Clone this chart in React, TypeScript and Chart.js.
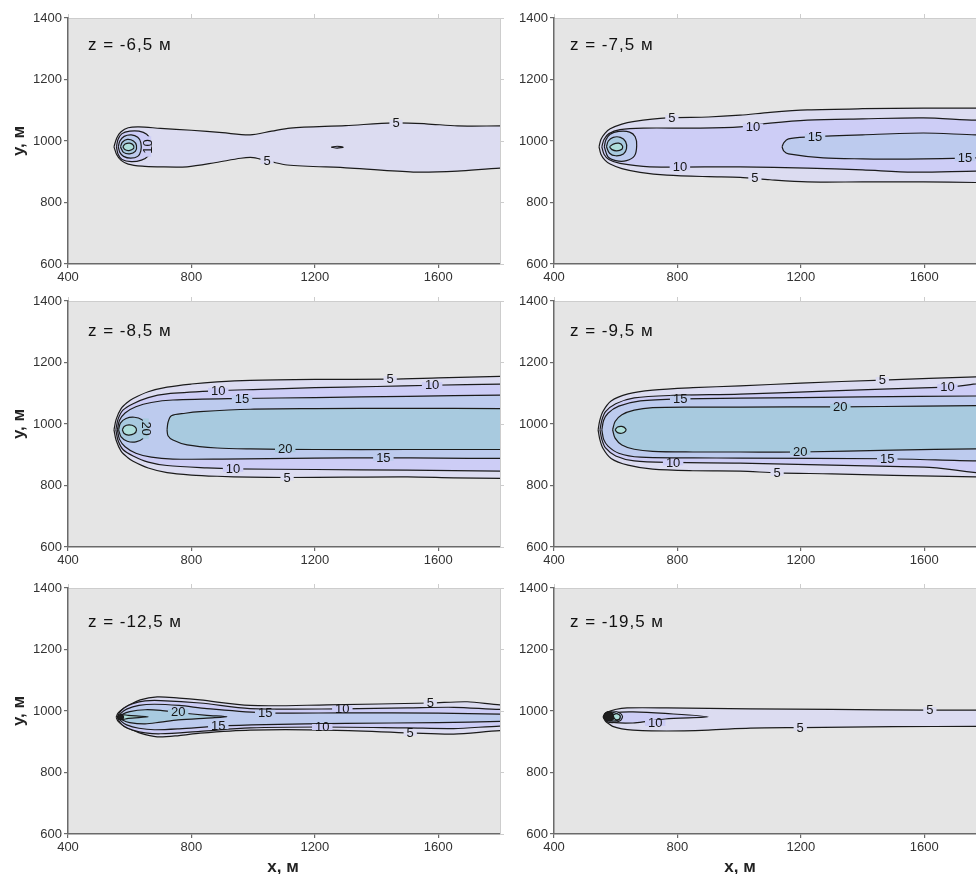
import React, { useEffect, useRef } from 'react';
import { Chart, registerables } from 'chart.js';
Chart.register(...registerables);

type P = [number, number];
type Lbl = [string, number, number, number, number]; // text, x, y, rotation(deg), level

// ---------- axes ----------
const xTicks = [400, 800, 1200, 1600];
const yTicks = [600, 800, 1000, 1200, 1400];
const xTopTicks = [400, 800, 1200, 1600];
const yRightTicks = [600, 800, 1000, 1200, 1400];
const xMin = 400;
const xMaxLeft = 1800;
const xMaxRight = 1767.6; // right column is cut by the picture edge
const yMin = 600;
const yMax = 1400;

const panelTitles = ['z = -6,5 м', 'z = -7,5 м', 'z = -8,5 м', 'z = -9,5 м', 'z = -12,5 м', 'z = -19,5 м'];
const xTitle = 'х, м';
const yTitle = 'у, м';

// ---------- panel 1: z = -6,5 ----------
const p1_c5_up: P[] = [[549,981],[558,1010],[572,1030],[595,1043],[630,1046],[700,1041],[800,1035],[900,1027],[990,1020],[1060,1032],[1120,1042],[1300,1050],[1454,1059],[1560,1056],[1662,1049],[1800,1049],[1900,1049]];
const p1_c5_lo: P[] = [[549,981],[558,955],[572,937],[595,925],[640,918],[689,916],[786,916],[880,930],[960,944],[1000,946],[1060,932],[1110,922],[1315,912],[1519,899],[1662,902],[1800,912],[1900,912]];
const p1_c10: P[] = [[557,981],[562,1005],[575,1024],[600,1032],[630,1032],[655,1022],[667,1003],[669,978],[660,952],[638,938],[605,933],[575,940],[562,958],[557,981]];
const p1_c15: P[] = [[563,981],[568,1000],[582,1015],[605,1020],[626,1012],[636,995],[636,968],[626,950],[603,944],[580,950],[568,963],[563,981]];
const p1_c20: P[] = [[570,981],[576,996],[592,1005],[612,1000],[622,985],[618,966],[600,958],[580,963],[570,981]];
const p1_c25: P[] = [[578,981],[585,990],[600,993],[612,986],[612,975],[598,969],[584,972],[578,981]];
const p1_dash: P[] = [[1253,980],[1272,983],[1292,980],[1272,977],[1253,980]];
const p1_labels: Lbl[] = [['5',1463,1059,0,5],['5',1045,935,0,5],['10',660,982,-90,10]];

// ---------- panel 2: z = -7,5 ----------
const p2_c5_up: P[] = [[546,981],[552,1005],[565,1025],[582,1040],[620,1055],[656,1063],[766,1075],[900,1078],[1003,1084],[1100,1093],[1221,1101],[1400,1105],[1597,1107],[1767,1107],[1900,1107]];
const p2_c5_lo: P[] = [[546,981],[552,957],[565,938],[582,925],[620,910],[679,898],[766,889],[900,884],[1003,882],[1100,874],[1221,867],[1400,867],[1597,867],[1767,865],[1900,865]];
const p2_c10_up: P[] = [[555,981],[562,1005],[578,1024],[614,1037],[689,1042],[874,1042],[1003,1046],[1100,1058],[1221,1068],[1400,1072],[1597,1075],[1767,1068],[1900,1068]];
const p2_c10_lo: P[] = [[555,981],[562,957],[578,940],[614,927],[711,916],[1003,916],[1221,912],[1400,906],[1564,899],[1767,902],[1900,902]];
const p2_c15_near: P[] = [[563,981],[568,1003],[582,1022],[610,1031],[645,1029],[663,1014],[668,985],[661,952],[635,936],[600,936],[575,948],[563,981]];
const p2_c20: P[] = [[570,981],[576,1000],[592,1012],[615,1012],[632,998],[635,975],[625,958],[600,952],[580,960],[570,981]];
const p2_c25: P[] = [[580,981],[592,990],[610,993],[622,984],[620,973],[603,968],[588,972],[580,981]];
const p2_c15_up: P[] = [[1139,981],[1145,995],[1160,1007],[1221,1013],[1400,1020],[1597,1026],[1767,1020],[1900,1020]];
const p2_c15_lo: P[] = [[1139,981],[1145,967],[1160,958],[1273,945],[1400,942],[1545,941],[1767,945],[1900,945]];
const p2_labels: Lbl[] = [['5',782,1075,0,5],['10',1045,1047,0,10],['15',1246,1014,0,15],['10',808,916,0,10],['5',1051,881,0,5],['15',1732,944,0,15]];

// ---------- panel 3: z = -8,5 ----------
const p3_c5_up: P[] = [[549,981],[556,1015],[572,1050],[592,1070],[611,1083],[660,1105],[721,1120],[800,1130],[883,1137],[990,1142],[1200,1145],[1444,1146],[1600,1150],[1800,1155],[1900,1155]];
const p3_c5_lo: P[] = [[549,981],[556,947],[572,912],[592,892],[611,879],[660,857],[721,842],[800,834],[883,830],[990,827],[1110,826],[1300,827],[1500,828],[1650,825],[1800,823],[1900,823]];
const p3_c10_up: P[] = [[555,981],[562,1015],[578,1045],[611,1066],[660,1086],[721,1098],[887,1108],[1000,1112],[1200,1118],[1400,1122],[1580,1126],[1800,1130],[1900,1130]];
const p3_c10_lo: P[] = [[555,981],[562,947],[578,917],[611,896],[660,876],[721,865],[850,857],[935,854],[1200,852],[1500,850],[1800,847],[1900,847]];
const p3_c15_up: P[] = [[560,981],[567,1012],[585,1036],[620,1056],[670,1070],[740,1078],[964,1083],[1200,1086],[1500,1090],[1800,1094],[1900,1094]];
const p3_c15_lo: P[] = [[560,981],[567,950],[585,926],[620,905],[670,892],[740,886],[900,886],[1200,889],[1422,890],[1600,889],[1800,888],[1900,888]];
const p3_c20_near: P[] = [[564,981],[570,1003],[588,1018],[615,1022],[640,1014],[652,998],[655,975],[645,954],[620,942],[592,944],[572,958],[564,981]];
const p3_c25: P[] = [[576,981],[582,992],[598,997],[616,992],[622,980],[614,968],[596,964],[582,969],[576,981]];
const p3_c20_up: P[] = [[721,981],[724,1005],[735,1027],[780,1035],[828,1040],[990,1048],[1200,1050],[1500,1051],[1800,1050],[1900,1050]];
const p3_c20_lo: P[] = [[721,981],[724,962],[740,948],[786,932],[883,922],[990,919],[1200,917],[1500,917],[1800,917],[1900,917]];
const p3_labels: Lbl[] = [['5',1444,1146,0,5],['10',887,1108,0,10],['10',1580,1126,0,10],['15',964,1083,0,15],['20',652,985,90,20],['20',1104,918,0,20],['15',1422,890,0,15],['10',935,854,0,10],['5',1110,826,0,5]];

// ---------- panel 4: z = -9,5 ----------
const p4_c5_up: P[] = [[543,981],[548,1010],[558,1040],[585,1075],[640,1098],[720,1110],[850,1118],[1003,1124],[1200,1133],[1464,1143],[1767,1153],[1900,1154]];
const p4_c5_lo: P[] = [[543,981],[548,952],[558,922],[585,888],[640,866],[720,853],[850,848],[1003,847],[1123,841],[1300,838],[1500,833],[1767,828],[1900,828]];
const p4_c10_up: P[] = [[549,981],[555,1012],[567,1040],[600,1066],[660,1085],[786,1093],[1003,1097],[1300,1108],[1675,1120],[1900,1121]];
const p4_c10_lo: P[] = [[549,981],[555,950],[567,922],[600,896],[660,880],[786,875],[1003,873],[1300,866],[1600,860],[1900,856]];
const p4_c15_up: P[] = [[555,981],[561,1012],[575,1035],[610,1058],[680,1075],[809,1082],[1003,1084],[1400,1088],[1767,1091],[1900,1091]];
const p4_c15_lo: P[] = [[555,981],[561,950],[575,928],[610,905],[680,892],[850,890],[1003,889],[1480,887],[1767,880],[1900,880]];
const p4_c20_up: P[] = [[590,981],[598,1008],[620,1030],[660,1045],[720,1053],[850,1055],[1003,1055],[1328,1056],[1600,1058],[1767,1060],[1900,1060]];
const p4_c20_lo: P[] = [[590,981],[598,954],[620,932],[660,918],[720,911],[850,909],[1003,909],[1198,909],[1500,915],[1767,919],[1900,919]];
const p4_c25: P[] = [[598,981],[606,990],[620,992],[632,985],[632,977],[620,970],[606,972],[598,981]];
const p4_labels: Lbl[] = [['5',1464,1143,0,5],['10',1675,1120,0,10],['15',809,1082,0,15],['20',1328,1056,0,20],['20',1198,909,0,20],['15',1480,887,0,15],['10',786,875,0,10],['5',1123,841,0,5]];

// ---------- panel 5: z = -12,5 ----------
const p5_c5_up: P[] = [[556,980],[562,993],[575,1005],[591,1015],[634,1036],[689,1046],[760,1042],[828,1036],[990,1018],[1240,1020],[1574,1026],[1694,1030],[1800,1020],[1900,1020]];
const p5_c5_lo: P[] = [[556,980],[562,967],[575,955],[591,946],[634,928],[689,916],[760,920],[828,928],[990,938],[1240,938],[1509,929],[1650,925],[1800,936],[1900,936]];
const p5_c10_up: P[] = [[560,980],[567,995],[582,1010],[610,1024],[650,1033],[700,1034],[828,1026],[990,1008],[1289,1007],[1500,1010],[1650,1012],[1800,1005],[1900,1005]];
const p5_c10_lo: P[] = [[560,980],[567,965],[582,950],[610,938],[650,929],[700,926],[828,934],[990,945],[1224,948],[1500,945],[1650,943],[1800,951],[1900,951]];
const p5_c15_up: P[] = [[564,980],[572,993],[590,1006],[630,1018],[680,1022],[760,1018],[850,1008],[1039,994],[1300,994],[1600,993],[1800,990],[1900,990]];
const p5_c15_lo: P[] = [[564,980],[572,967],[590,955],[630,944],[680,939],[760,942],[887,951],[1039,956],[1300,960],[1600,962],[1800,966],[1900,966]];
const p5_c20: P[] = [[568,980],[578,990],[600,998],[650,1004],[700,1002],[757,995],[850,986],[915,981],[850,977],[757,971],[700,964],[650,958],[600,962],[578,970],[568,980]];
const p5_c25: P[] = [[562,980],[572,988],[595,986],[660,981],[595,976],[572,972],[562,980]];
const p5_c40: P[] = [[560,980],[565,987],[578,985],[580,980],[578,975],[565,973],[560,980]];
const p5_labels: Lbl[] = [['5',1574,1026,0,5],['10',1289,1007,0,10],['15',1039,994,0,15],['20',757,996,0,20],['15',887,951,0,15],['10',1224,948,0,10],['5',1509,929,0,5]];

// ---------- panel 6: z = -19,5 ----------
const p6_c5_up: P[] = [[559,980],[566,990],[575,997],[598,1005],[637,1010],[766,1010],[1036,1007],[1300,1005],[1618,1003],[1767,1003],[1900,1003]];
const p6_c5_lo: P[] = [[559,980],[566,968],[575,960],[590,950],[620,942],[656,938],[766,935],[900,938],[1036,944],[1198,946],[1500,949],[1767,950],[1900,950]];
const p6_c10: P[] = [[566,980],[575,988],[598,995],[656,997],[760,992],[900,981],[760,974],[700,966],[656,961],[598,962],[575,970],[566,980]];
const p6_c15: P[] = [[561,982],[568,994],[588,1000],[610,995],[622,983],[614,968],[590,962],[570,967],[561,982]];
const p6_c20: P[] = [[563,982],[570,992],[588,996],[605,991],[614,982],[608,971],[590,967],[572,972],[563,982]];
const p6_c40: P[] = [[560,982],[565,992],[578,998],[592,990],[594,976],[582,968],[566,971],[560,982]];
const p6_c25: P[] = [[592,987],[602,991],[614,985],[612,974],[600,972],[594,979],[592,987]];
const p6_labels: Lbl[] = [['10',728,961,0,10],['5',1198,946,0,5],['5',1618,1003,0,5]];

// ---------- assembly ----------
const shape = (up: P[], lo: P[]): P[] => [...up, ...lo.slice(1).reverse(), up[0]];

type Contour = [number, P[]];
const panelContours: Contour[][] = [
  [[5, shape(p1_c5_up, p1_c5_lo)], [10, p1_c10], [15, p1_c15], [20, p1_c20], [25, p1_c25], [10, p1_dash]],
  [[5, shape(p2_c5_up, p2_c5_lo)], [10, shape(p2_c10_up, p2_c10_lo)], [15, p2_c15_near], [20, p2_c20], [25, p2_c25], [15, shape(p2_c15_up, p2_c15_lo)]],
  [[5, shape(p3_c5_up, p3_c5_lo)], [10, shape(p3_c10_up, p3_c10_lo)], [15, shape(p3_c15_up, p3_c15_lo)], [20, p3_c20_near], [25, p3_c25], [20, shape(p3_c20_up, p3_c20_lo)]],
  [[5, shape(p4_c5_up, p4_c5_lo)], [10, shape(p4_c10_up, p4_c10_lo)], [15, shape(p4_c15_up, p4_c15_lo)], [20, shape(p4_c20_up, p4_c20_lo)], [25, p4_c25]],
  [[5, shape(p5_c5_up, p5_c5_lo)], [10, shape(p5_c10_up, p5_c10_lo)], [15, shape(p5_c15_up, p5_c15_lo)], [20, p5_c20], [25, p5_c25], [40, p5_c40]],
  [[5, shape(p6_c5_up, p6_c5_lo)], [10, p6_c10], [15, p6_c15], [20, p6_c20], [40, p6_c40], [25, p6_c25]],
];
const panelLabels: Lbl[][] = [p1_labels, p2_labels, p3_labels, p4_labels, p5_labels, p6_labels];

// ---------- styles ----------
const fillColors: Record<number, string> = {
  5: '#dcdcf1', 10: '#cdcdf6', 15: '#bdcbee', 20: '#a8cadf', 25: '#aedfdb', 40: '#1e1e1e',
};
const plotBg = '#e5e5e5';
const axisDark = '#6a6a6a';
const axisLight = '#cdcdcd';
const FONT = "Arial, 'Liberation Sans', sans-serif";
const rowTops = [18, 301, 588];
const plotH = 246;
const titleDy = [27, 30, 34];

function Panel({ index }: { index: number }) {
  const ref = useRef<HTMLCanvasElement>(null);
  const col = index % 2;
  const row = Math.floor(index / 2);
  const canvasLeft = col === 0 ? 0 : 500;
  const canvasW = col === 0 ? 512 : 476;
  const canvasTop = rowTops[row] - 10;
  const bottomH = row === 2 ? 40 : 30;
  const canvasH = 10 + plotH + bottomH;

  useEffect(() => {
    const canvas = ref.current!;
    const contours = panelContours[index];
    const labels = panelLabels[index];
    const xMax = col === 0 ? xMaxLeft : xMaxRight;

    const datasets = contours.map(([lv, pts], i) => ({
      data: pts.map(([x, y]) => ({ x, y })),
      fill: 'shape',
      backgroundColor: fillColors[lv],
      borderColor: '#1b1b1b',
      borderWidth: 1.2,
      pointRadius: 0,
      pointHoverRadius: 0,
      tension: 0.3,
      order: contours.length - i,
      clip: 0,
    }));

    const decor = {
      id: 'decor',
      beforeDraw(chart: any) {
        const { ctx, chartArea: a } = chart;
        ctx.save();
        ctx.fillStyle = plotBg;
        ctx.fillRect(a.left, a.top, a.right - a.left, a.bottom - a.top);
        ctx.restore();
      },
      afterDatasetsDraw(chart: any) {
        const { ctx, chartArea: a } = chart;
        const sx = chart.scales.x;
        const sy = chart.scales.y;
        ctx.save();
        for (const [t, x, y, rot, lv] of labels) {
          const px = sx.getPixelForValue(x);
          const py = sy.getPixelForValue(y);
          ctx.save();
          ctx.translate(px, py);
          ctx.rotate((rot * Math.PI) / 180);
          ctx.font = `13px ${FONT}`;
          const w = ctx.measureText(t).width;
          ctx.fillStyle = fillColors[lv];
          ctx.fillRect(-w / 2 - 3, -3, w + 6, 6);
          ctx.fillStyle = '#151515';
          ctx.textAlign = 'center';
          ctx.textBaseline = 'middle';
          ctx.fillText(t, 0, 0.5);
          ctx.restore();
        }
        ctx.font = `17px ${FONT}`;
        try { (ctx as any).letterSpacing = '1px'; } catch (e) { /* ignore */ }
        ctx.fillStyle = '#111';
        ctx.textAlign = 'left';
        ctx.textBaseline = 'middle';
        ctx.fillText(panelTitles[index], a.left + (col === 0 ? 20 : 16), a.top + titleDy[row]);
        ctx.restore();
      },
      afterDraw(chart: any) {
        const { ctx, chartArea: a } = chart;
        ctx.save();
        ctx.fillStyle = '#222';
        ctx.font = `bold 17px ${FONT}`;
        ctx.textAlign = 'center';
        ctx.textBaseline = 'middle';
        if (col === 0) {
          ctx.save();
          ctx.translate(19, (a.top + a.bottom) / 2);
          ctx.rotate(-Math.PI / 2);
          ctx.fillText(yTitle, 0, 0);
          ctx.restore();
        }
        if (row === 2) {
          ctx.fillText(xTitle, col === 0 ? 283 : 240, 289);
        }
        ctx.restore();
      },
    };

    const tickFont = { family: FONT, size: 13 };
    const scales: any = {
      x: {
        type: 'linear', position: 'bottom', min: xMin, max: xMax,
        afterBuildTicks: (s: any) => { s.ticks = xTicks.map((v) => ({ value: v })); },
        afterFit: (s: any) => { s.height = bottomH; },
        ticks: { callback: (v: any) => String(v), font: tickFont, color: '#333', padding: 2, maxRotation: 0, autoSkip: false },
        grid: { drawOnChartArea: false, drawTicks: true, tickLength: 4, color: axisDark, lineWidth: 1.2 },
        border: { display: true, color: axisDark, width: 1.5 },
      },
      xTop: {
        type: 'linear', position: 'top', min: xMin, max: xMax,
        afterBuildTicks: (s: any) => { s.ticks = xTopTicks.map((v) => ({ value: v })); },
        afterFit: (s: any) => { s.height = 10; },
        ticks: { display: false },
        grid: { drawOnChartArea: false, drawTicks: true, tickLength: 4, color: axisLight, lineWidth: 1 },
        border: { display: true, color: axisLight, width: 1 },
      },
      y: {
        type: 'linear', position: 'left', min: yMin, max: yMax,
        afterBuildTicks: (s: any) => { s.ticks = yTicks.map((v) => ({ value: v })); },
        afterFit: (s: any) => { s.width = col === 0 ? 68 : 54; },
        ticks: { callback: (v: any) => String(v), font: tickFont, color: '#333', padding: 2, autoSkip: false },
        grid: { drawOnChartArea: false, drawTicks: true, tickLength: 4, color: axisDark, lineWidth: 1.2 },
        border: { display: true, color: axisDark, width: 1.5 },
      },
    };
    if (col === 0) {
      scales.yRight = {
        type: 'linear', position: 'right', min: yMin, max: yMax,
        afterBuildTicks: (s: any) => { s.ticks = yRightTicks.map((v) => ({ value: v })); },
        afterFit: (s: any) => { s.width = 6; },
        ticks: { display: false },
        grid: { drawOnChartArea: false, drawTicks: true, tickLength: 4, color: axisLight, lineWidth: 1 },
        border: { display: true, color: axisLight, width: 1 },
      };
    }

    const chart = new Chart(canvas, {
      type: 'line',
      data: { datasets: datasets as any },
      options: {
        responsive: false,
        animation: false,
        events: [],
        devicePixelRatio: 1,
        layout: { padding: { left: 0, right: col === 0 ? 6 : 0, top: 0, bottom: 0 } },
        plugins: { legend: { display: false }, tooltip: { enabled: false } },
        scales,
      },
      plugins: [decor],
    } as any);
    return () => chart.destroy();
  }, [index]);

  return (
    <canvas
      ref={ref}
      width={canvasW}
      height={canvasH}
      style={{ position: 'absolute', left: canvasLeft, top: canvasTop, width: canvasW, height: canvasH }}
    />
  );
}

export default function App() {
  return (
    <div style={{ position: 'absolute', left: 0, top: 0, width: 976, height: 874, background: '#fff', overflow: 'hidden' }}>
      {panelTitles.map((_, i) => (
        <Panel key={i} index={i} />
      ))}
    </div>
  );
}
